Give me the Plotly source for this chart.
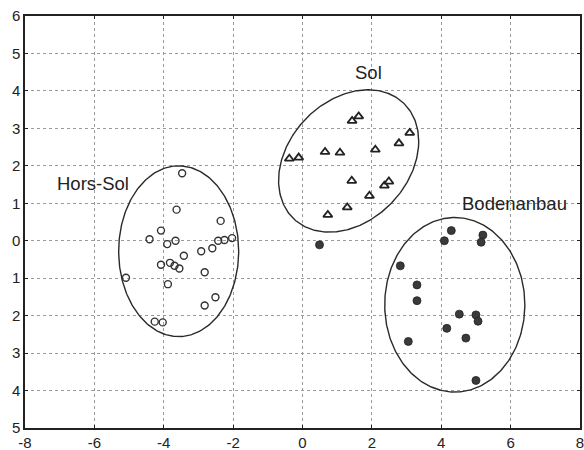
import numpy as np
import plotly.graph_objects as go

# Hors-Sol (open circles)
hs_x = [-3.47, -3.63, -2.36, -4.08, -4.41, -3.90, -3.66, -2.43, -2.25, -2.03, -2.60, -2.92,
        -3.42, -4.08, -3.82, -3.69, -3.55, -2.82, -5.09, -3.88, -2.51, -2.82, -4.26, -4.03]
hs_y = [1.80, 0.83, 0.53, 0.27, 0.04, -0.09, 0.00, 0.00, 0.02, 0.07, -0.20, -0.28,
        -0.40, -0.64, -0.59, -0.67, -0.74, -0.84, -0.99, -1.16, -1.51, -1.73, -2.16, -2.18]

# Sol (open triangles)
sol_x = [1.43, 1.62, 3.09, 2.78, 0.65, 1.08, 2.10, -0.38, -0.11, 1.42, 2.49, 2.36, 1.93, 1.29, 0.73]
sol_y = [3.20, 3.32, 2.88, 2.60, 2.37, 2.35, 2.43, 2.19, 2.22, 1.60, 1.58, 1.47, 1.20, 0.89, 0.69]

# Bodenanbau (filled circles)
bo_x = [4.29, 4.09, 5.20, 5.15, 2.82, 3.30, 3.30, 4.52, 5.00, 5.06, 4.16, 4.71, 3.05, 5.00, 0.49]
bo_y = [0.27, 0.00, 0.15, -0.04, -0.67, -1.18, -1.60, -1.96, -1.98, -2.15, -2.34, -2.60, -2.69, -3.73, -0.11]

# Ellipses: center x, center y, half-width x, half-height y, phase (deg)
ell_names = ["Hors-Sol", "Sol", "Bodenanbau"]
ell_cx = [-3.57, 1.33, 4.39]
ell_cy = [-0.28, 2.13, -1.71]
ell_ax = [1.73, 2.02, 2.02]
ell_ay = [2.28, 1.90, 2.33]
ell_phase = [90, 74, 90]

# Label positions
lab_text = ["Hors-Sol", "Sol", "Bodenanbau"]
lab_x = [-6.05, 1.90, 6.10]
lab_y = [1.52, 4.48, 0.99]

x_ticks = [-8, -6, -4, -2, 0, 2, 4, 6, 8]
x_ticktext = ["-8", "-6", "-4", "-2", "0", "2", "4", "6", "8"]
y_ticks = [6, 5, 4, 3, 2, 1, 0, -1, -2, -3, -4, -5]
y_ticktext = ["6", "5", "4", "3", "2", "1", "0", "1", "2", "3", "4", "5"]

FONT = "Liberation Sans, Arial"

fig = go.Figure()

t = np.linspace(0, 2 * np.pi, 300)
for cx, cy, ax, ay, ph in zip(ell_cx, ell_cy, ell_ax, ell_ay, ell_phase):
    p = np.deg2rad(ph)
    fig.add_trace(go.Scatter(x=cx + ax * np.cos(t), y=cy + ay * np.cos(t - p),
                             mode="lines", line=dict(color="#2a2a2a", width=1.4),
                             hoverinfo="skip", showlegend=False))

fig.add_trace(go.Scatter(x=hs_x, y=hs_y, mode="markers", name="Hors-Sol",
                         marker=dict(symbol="circle-open", size=7, color="#333333",
                                     line=dict(width=1.4, color="#333333"))))
fig.add_trace(go.Scatter(x=sol_x, y=sol_y, mode="markers", name="Sol",
                         marker=dict(symbol="triangle-up-open", size=8, color="#222222",
                                     line=dict(width=1.8, color="#222222"))))
fig.add_trace(go.Scatter(x=bo_x, y=bo_y, mode="markers", name="Bodenanbau",
                         marker=dict(symbol="circle", size=8, color="#3a3a3a",
                                     line=dict(width=0.8, color="#222222"))))

for txt, lx, ly in zip(lab_text, lab_x, lab_y):
    fig.add_annotation(x=lx, y=ly, text=txt, showarrow=False,
                       font=dict(family=FONT, size=18.5, color="#222222"))

axis_common = dict(showline=True, linecolor="#222222", linewidth=1.5, mirror="allticks",
                   showgrid=True, gridcolor="#9a9a9a", griddash="dot", gridwidth=1,
                   zeroline=False, ticks="inside", ticklen=3, tickcolor="#222222",
                   automargin=False, ticklabeloverflow="allow",
                   tickfont=dict(family=FONT, size=15, color="#222222"))

fig.update_xaxes(range=[-8, 8], tickvals=x_ticks, ticktext=x_ticktext, **axis_common)
fig.update_yaxes(range=[-5, 6], tickvals=y_ticks, ticktext=y_ticktext, **axis_common)

fig.update_layout(width=584, height=450, margin=dict(l=25, r=4, t=16, b=22),
                  plot_bgcolor="white", paper_bgcolor="white", showlegend=False)

# remove the default page margin so the 584x450 figure fills the window exactly
fig.write_html("out.html",
               config={"displayModeBar": False},
               post_script="document.body.style.margin='0';"
                           "document.documentElement.style.overflow='hidden';")
